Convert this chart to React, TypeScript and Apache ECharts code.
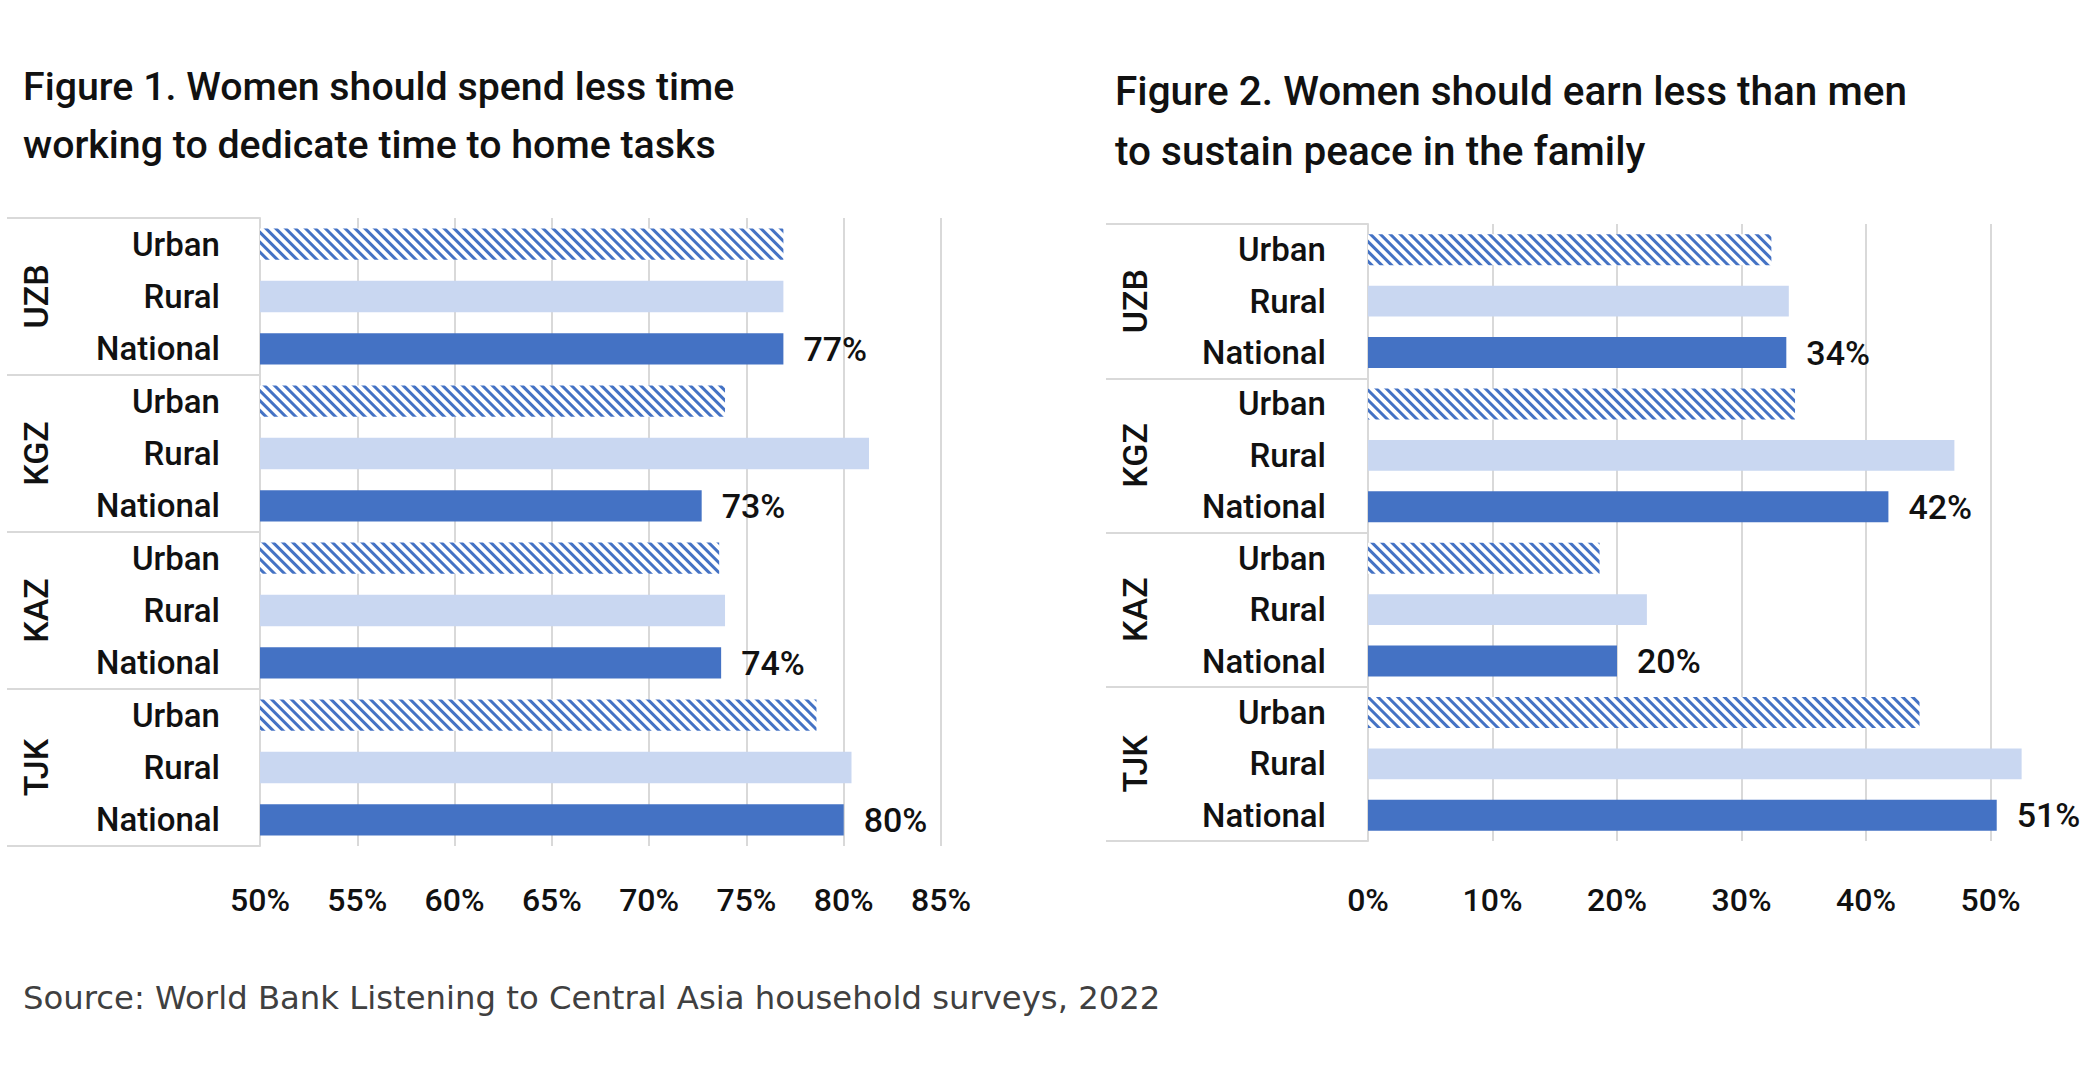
import React, { useEffect, useRef } from "react";
import * as echarts from "echarts";

// ---- Data ----
const COUNTRIES = ["UZB", "KGZ", "KAZ", "TJK"];
const GROUPS = ["Urban", "Rural", "National"];

// Figure 1 (% agreeing)
const FIG1_URBAN = [76.9, 73.9, 73.6, 78.6];
const FIG1_RURAL = [76.9, 81.3, 73.9, 80.4];
const FIG1_NATIONAL = [76.9, 72.7, 73.7, 80.0];

// Figure 2 (% agreeing)
const FIG2_URBAN = [32.4, 34.3, 18.6, 44.3];
const FIG2_RURAL = [33.8, 47.1, 22.4, 52.5];
const FIG2_NATIONAL = [33.6, 41.8, 20.0, 50.5];

const FIG1_TITLE = "Figure 1. Women should spend less time\nworking to dedicate time to home tasks";
const FIG2_TITLE = "Figure 2. Women should earn less than men\nto sustain peace in the family";
const SOURCE = "Source: World Bank Listening to Central Asia household surveys, 2022";

const FIG1_AXIS = { min: 50, max: 85, step: 5 };
const FIG2_AXIS = { min: 0, max: 60, step: 10, hiddenLabel: 60 };

// ---- Styles ----
const DARK = "#4472C4";
const LIGHT = "#C9D7F1";
const GRID_GRAY = "#D9D9D9";
const FONT = "Roboto, 'Liberation Sans', sans-serif";
const TEXT = "#111111";

const CATEGORIES = COUNTRIES.flatMap((c) => GROUPS.map((g) => `${c}|${g}`));

function buildData(urban: number[], rural: number[], national: number[]) {
  const out: any[] = [];
  COUNTRIES.forEach((_, i) => {
    out.push({
      value: urban[i],
      itemStyle: {
        color: "#ffffff",
        decal: {
          symbol: "rect",
          symbolSize: 1,
          color: DARK,
          dashArrayX: [1, 0],
          dashArrayY: [3, 3.6],
          rotation: Math.PI / 4,
        },
      },
      label: { show: false },
    });
    out.push({ value: rural[i], itemStyle: { color: LIGHT }, label: { show: false } });
    out.push({ value: national[i], itemStyle: { color: DARK }, label: { show: true } });
  });
  return out;
}

function groupAxis(gridIndex: number, margin: number) {
  return {
    type: "category",
    gridIndex,
    inverse: true,
    position: "left",
    data: CATEGORIES,
    axisLine: { show: true, lineStyle: { color: GRID_GRAY, width: 2 } },
    axisTick: { show: false },
    axisLabel: {
      formatter: (v: string) => v.split("|")[1],
      margin,
      fontSize: 33,
      fontWeight: 500,
      fontFamily: FONT,
      color: TEXT,
      interval: 0,
    },
  };
}

function countryAxis(gridIndex: number, tickLen: number, margin: number) {
  return {
    type: "category",
    gridIndex,
    inverse: true,
    position: "left",
    data: COUNTRIES,
    axisLine: { show: false },
    axisTick: { show: true, length: tickLen, lineStyle: { color: GRID_GRAY, width: 2 } },
    axisLabel: {
      rotate: 90,
      margin,
      verticalAlign: "middle",
      fontSize: 34,
      fontWeight: 500,
      fontFamily: FONT,
      color: TEXT,
      interval: 0,
    },
  };
}

function valueAxis(gridIndex: number, ax: any, margin: number) {
  return {
    type: "value",
    gridIndex,
    min: ax.min,
    max: ax.max,
    interval: ax.step,
    axisLine: { show: false },
    axisTick: { show: false },
    splitLine: { show: true, lineStyle: { color: GRID_GRAY, width: 2 } },
    axisLabel: {
      formatter: (v: number) => (ax.hiddenLabel !== undefined && v === ax.hiddenLabel ? "" : `${v}%`),
      margin,
      fontSize: 32,
      fontWeight: 500,
      fontFamily: FONT,
      color: TEXT,
    },
  };
}

function barSeries(xAxisIndex: number, yAxisIndex: number, data: any[]) {
  return {
    type: "bar",
    xAxisIndex,
    yAxisIndex,
    barCategoryGap: "40%",
    data,
    label: {
      position: "right",
      distance: 20,
      formatter: (p: any) => `${Math.round(p.value)}%`,
      fontSize: 34,
      fontWeight: 500,
      fontFamily: FONT,
      color: TEXT,
    },
  };
}

export default function App() {
  const ref = useRef<HTMLDivElement>(null);

  useEffect(() => {
    if (!ref.current) return;
    const chart = echarts.init(ref.current, undefined, { renderer: "svg" });
    const titleStyle = (size: number, lh: number) => ({
      fontSize: size,
      fontWeight: 500,
      fontFamily: FONT,
      color: TEXT,
      lineHeight: lh,
    });
    chart.setOption({
      animation: false,
      backgroundColor: "#ffffff",
      title: [
        { text: FIG1_TITLE, left: 23, top: 58, padding: 0, textStyle: titleStyle(39.3, 58) },
        { text: FIG2_TITLE, left: 1115, top: 61, padding: 0, textStyle: titleStyle(40.5, 60) },
        {
          text: SOURCE,
          left: 23,
          top: 978,
          padding: 0,
          textStyle: { fontSize: 32.3, fontWeight: 400, fontFamily: "'DejaVu Sans', sans-serif", color: "#404040", lineHeight: 40 },
        },
      ],
      grid: [
        { left: 260, top: 218, width: 681, height: 628, containLabel: false, outerBoundsMode: "none" },
        { left: 1368, top: 224, width: 747, height: 617, containLabel: false, outerBoundsMode: "none" },
      ],
      xAxis: [valueAxis(0, FIG1_AXIS, 38), valueAxis(1, FIG2_AXIS, 43)],
      yAxis: [groupAxis(0, 40), countryAxis(0, 253, 224), groupAxis(1, 42), countryAxis(1, 262, 233)],
      series: [
        barSeries(0, 0, buildData(FIG1_URBAN, FIG1_RURAL, FIG1_NATIONAL)),
        barSeries(1, 2, buildData(FIG2_URBAN, FIG2_RURAL, FIG2_NATIONAL)),
      ],
    });
    return () => chart.dispose();
  }, []);

  return (
    <div
      ref={ref}
      style={{ position: "fixed", left: 0, top: 0, width: 2100, height: 1087, background: "#fff" }}
    />
  );
}
